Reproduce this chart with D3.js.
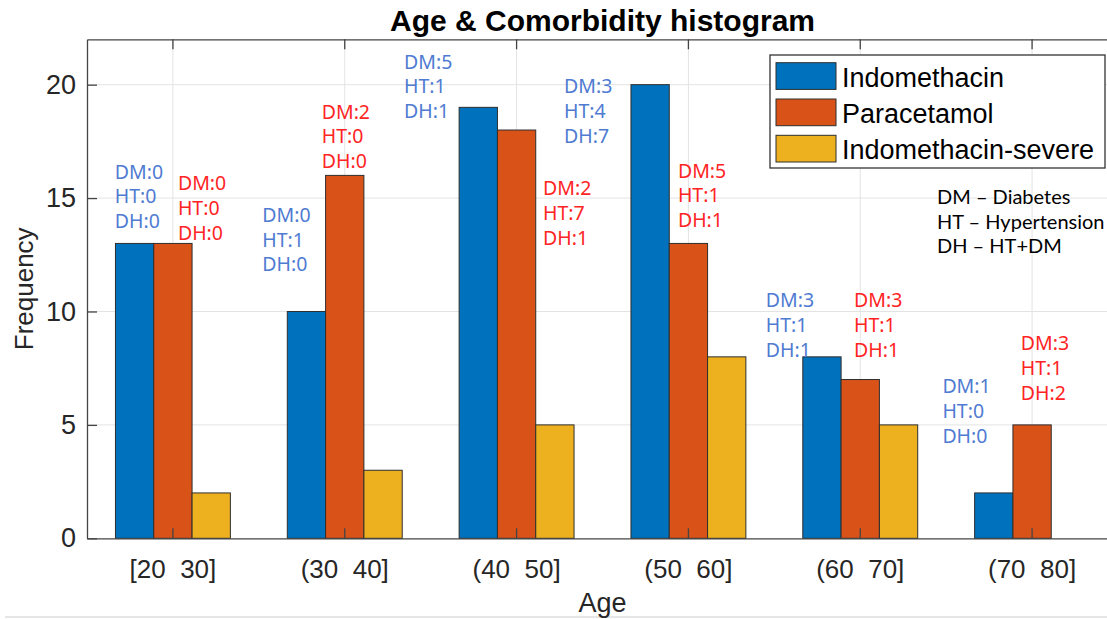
<!DOCTYPE html>
<html><head><meta charset="utf-8">
<script src="https://cdn.jsdelivr.net/npm/d3@7"></script>
<style>body{margin:0;background:#fff;overflow:hidden} svg{display:block}</style>
</head><body><svg id="chart" width="1107" height="619"></svg>
<script>
// ---- data ----
const categories = ["[20  30]", "(30  40]", "(40  50]", "(50  60]", "(60  70]", "(70  80]"];
const seriesNames = ["Indomethacin", "Paracetamol", "Indomethacin-severe"];
const indomethacin = [13, 10, 19, 20, 8, 2];
const paracetamol = [13, 16, 18, 13, 7, 5];
const indomethacinSevere = [2, 3, 5, 8, 5, 0];
const yTicks = [0, 5, 10, 15, 20];
const indoDM = [0, 0, 5, 3, 3, 1];
const indoHT = [0, 1, 1, 4, 1, 0];
const indoDH = [0, 0, 1, 7, 1, 0];
const paraDM = [0, 2, 2, 5, 3, 3];
const paraHT = [0, 0, 7, 1, 1, 1];
const paraDH = [0, 0, 1, 1, 1, 2];
const legendNotes = ["DM \u2013 Diabetes", "HT \u2013 Hypertension", "DH \u2013 HT+DM"];
// annotation anchors in data units (offset from category centre, frequency at text top)
const indoLabelDX = [-0.338, -0.48, -0.655, -0.724, -0.55, -0.522];
const indoLabelY = [16.47, 14.56, 21.32, 20.22, 10.81, 7.01];
const paraLabelDX = [0.029, -0.134, 0.154, -0.061, -0.036, -0.066];
const paraLabelY = [15.95, 19.11, 15.73, 16.51, 10.81, 8.89];

// ---- layout ----
const colors = ["#0072BD", "#D95319", "#EDB120"];
const labelColors = ["#4f7bd2", "#ff2424"];
const mLeft = 87, mRight = 1118, mTop = 39.3, mBottom = 538.3;
const svg = d3.select("#chart");
const AX = "Liberation Sans, Arial, Helvetica, sans-serif";

const x0 = d3.scaleBand().domain(categories).range([mLeft, mRight]).paddingInner(0).paddingOuter(0);
const x1 = d3.scaleBand().domain(seriesNames).range([0, x0.bandwidth()]).paddingInner(0).paddingOuter(0.743);
const y = d3.scaleLinear().domain([0, 22]).range([mBottom, mTop]);
const xc = (i, dx) => x0(categories[i]) + x0.bandwidth() / 2 + dx * x0.step();

// faint bottom edge artefact
svg.append("line").attr("x1", 5).attr("x2", 1107).attr("y1", 617).attr("y2", 617)
  .attr("stroke", "#e6e6e6").attr("stroke-width", 2);

// grid
const g = svg.append("g");
g.selectAll("line.gy").data(yTicks.filter(d => d > 0)).join("line")
  .attr("x1", mLeft).attr("x2", mRight).attr("y1", d => y(d)).attr("y2", d => y(d))
  .attr("stroke", "#e3e3e3").attr("stroke-width", 1);
g.selectAll("line.gx").data(categories).join("line")
  .attr("x1", d => x0(d) + x0.bandwidth() / 2).attr("x2", d => x0(d) + x0.bandwidth() / 2)
  .attr("y1", mTop).attr("y2", mBottom)
  .attr("stroke", "#e3e3e3").attr("stroke-width", 1);

// bars
const series = [indomethacin, paracetamol, indomethacinSevere];
const barData = [];
series.forEach((vals, s) => vals.forEach((v, i) => { if (v > 0) barData.push({ s, i, v }); }));
svg.append("g").selectAll("rect").data(barData).join("rect")
  .attr("x", d => x0(categories[d.i]) + x1(seriesNames[d.s]))
  .attr("width", x1.bandwidth())
  .attr("y", d => y(d.v))
  .attr("height", d => y(0) - y(d.v))
  .attr("fill", d => colors[d.s])
  .attr("stroke", "#2e2e2e").attr("stroke-width", 1);

// axes
const axisColor = "#444";
const yAxis = svg.append("g").attr("transform", `translate(${mLeft},0)`)
  .call(d3.axisLeft(y).tickValues(yTicks).tickSizeInner(-10).tickSizeOuter(0).tickPadding(11));
const xAxis = svg.append("g").attr("transform", `translate(0,${mBottom})`)
  .call(d3.axisBottom(x0).tickSizeInner(-10).tickSizeOuter(0).tickPadding(21.5));
const xTop = svg.append("g").attr("transform", `translate(0,${mTop})`)
  .call(d3.axisTop(x0).tickSizeInner(-10).tickSizeOuter(0).tickFormat(""));
[yAxis, xAxis, xTop].forEach(a => {
  a.select(".domain").attr("stroke", axisColor).attr("stroke-width", 1.3);
  a.selectAll(".tick line").attr("stroke", axisColor).attr("stroke-width", 1.3);
  a.selectAll(".tick text").attr("fill", "#262626").attr("font-family", AX);
});
yAxis.selectAll(".tick text").attr("font-size", 27);
xAxis.selectAll(".tick text").attr("font-size", 26).style("white-space", "pre");

// comorbidity labels
function addLabel(i, dx, yTopVal, lines, color) {
  const t = svg.append("text").attr("x", xc(i, dx)).attr("y", y(yTopVal) + 13.8)
    .attr("fill", color).attr("font-family", "Noto Sans, sans-serif").attr("font-size", 19.5);
  lines.forEach((l, k) => t.append("tspan").attr("x", xc(i, dx)).attr("dy", k === 0 ? 0 : 24.8).text(l));
}
categories.forEach((c, i) => {
  addLabel(i, indoLabelDX[i], indoLabelY[i], ["DM:" + indoDM[i], "HT:" + indoHT[i], "DH:" + indoDH[i]], labelColors[0]);
  addLabel(i, paraLabelDX[i], paraLabelY[i], ["DM:" + paraDM[i], "HT:" + paraHT[i], "DH:" + paraDH[i]], labelColors[1]);
});

// title and axis labels
svg.append("text").attr("x", (mLeft + mRight) / 2).attr("y", 31).attr("text-anchor", "middle")
  .attr("font-family", AX).attr("font-weight", "bold").attr("font-size", 30).attr("fill", "#000")
  .text("Age & Comorbidity histogram");
svg.append("text").attr("transform", `translate(33,${(mTop + mBottom) / 2}) rotate(-90)`)
  .attr("text-anchor", "middle").attr("font-family", AX).attr("font-size", 26).attr("fill", "#262626")
  .text("Frequency");
svg.append("text").attr("x", (mLeft + mRight) / 2).attr("y", 612).attr("text-anchor", "middle")
  .attr("font-family", AX).attr("font-size", 27).attr("fill", "#262626").text("Age");

// legend
const lg = svg.append("g");
lg.append("rect").attr("x", 770).attr("y", 55).attr("width", 335).attr("height", 113)
  .attr("fill", "#fff").attr("stroke", "#333").attr("stroke-width", 1.3);
seriesNames.forEach((n, k) => {
  lg.append("rect").attr("x", 776).attr("y", 62.7 + k * 36.3).attr("width", 60).attr("height", 26.7)
    .attr("fill", colors[k]).attr("stroke", "#2e2e2e").attr("stroke-width", 1);
  lg.append("text").attr("x", 842).attr("y", 86.5 + k * 36.3).attr("font-family", AX)
    .attr("font-size", 27).attr("fill", "#000").text(n);
});

// notes
legendNotes.forEach((n, k) => {
  svg.append("text").attr("x", 937).attr("y", 204 + k * 24.5).attr("font-family", "Lato, sans-serif")
    .attr("font-size", 20).attr("fill", "#000").text(n);
});
</script></body></html>
